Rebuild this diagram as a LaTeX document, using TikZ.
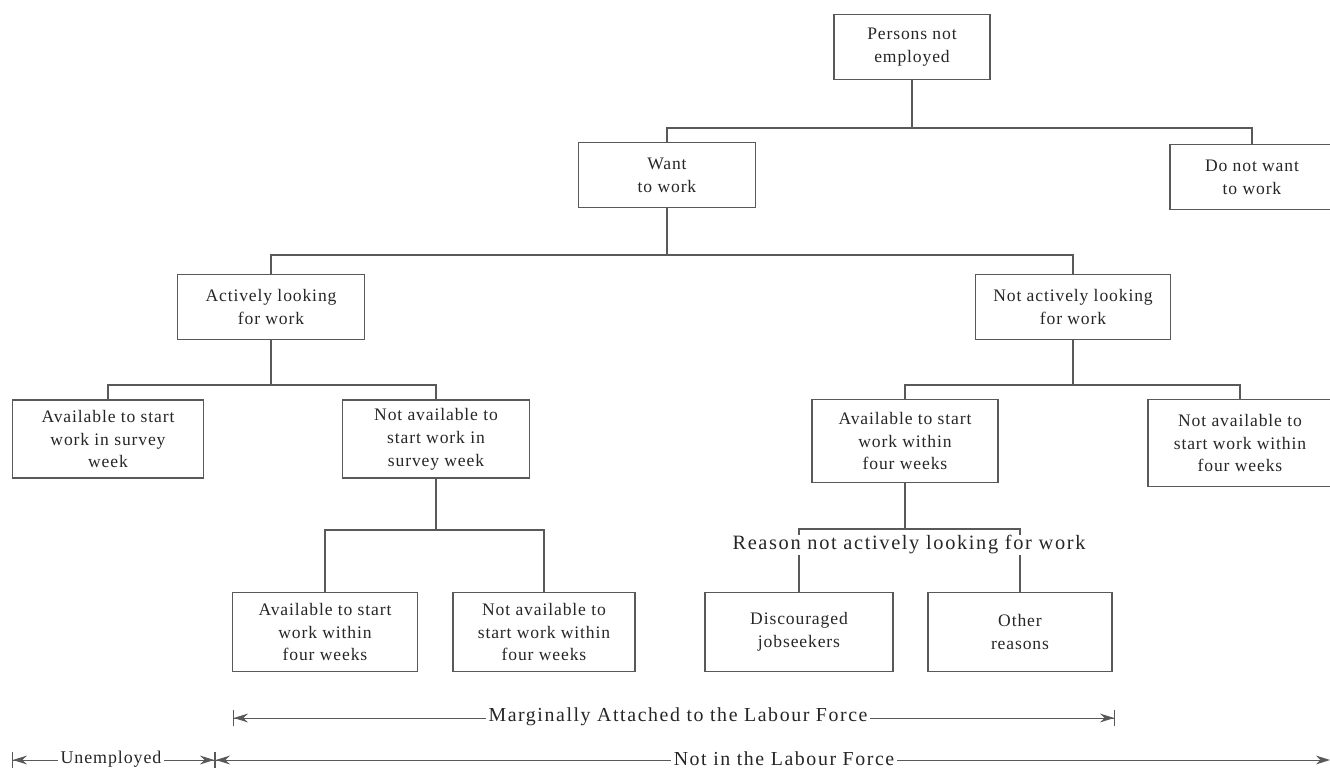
\documentclass[tikz,border=0pt]{standalone}
\usepackage{fontspec}
\usetikzlibrary{arrows.meta, calc}
\newfontfamily\boxfont[LetterSpace=5]{Liberation Serif}
\newfontfamily\lblfont[LetterSpace=8]{Liberation Serif}
\definecolor{linegray}{gray}{0.35}
\definecolor{textgray}{gray}{0.15}

\begin{document}
\begin{tikzpicture}[x = 0.02cm, y = -0.02cm, % one unit = one pixel of the scan
                line width = 0.6pt, draw = linegray,
                >={Stealth[length=8pt,width=5pt]}
            ]

            \tikzset{box/.style = {draw = linegray, rectangle, align = center,
            inner sep = 0pt, text = textgray,
            font = \boxfont\fontsize{10}{13}\selectfont},
            sz/.style 2 args = {minimum width = #1*0.02cm,
            minimum height = #2*0.02cm},
            lbl/.style = {fill = white, inner sep = 1.5pt, text = textgray,
            font = \lblfont\fontsize{11}{13}\selectfont},
            dim/.style = {draw = linegray, line width = 0.5pt}}

            \useasboundingbox (0,0) rectangle (1330,774);

            % boxes
            \node[box, sz={156}{65}] (pne) at (912,47) {Persons not\\employed};
            \node[box, sz={177}{65}] (want) at (667,175) {Want\\to work};
            \node[box, sz={164}{65}] (dnw) at (1252,177) {Do not want\\to work};
            \node[box, sz={187}{65}] (active) at (271,307) {Actively looking\\for work};
            \node[box, sz={195}{65}] (notactive) at (1073,307) {Not actively looking\\for work};
            \node[box, sz={191}{78}] (avsw) at (108,439) {Available to start\\work in survey\\week};
            \node[box, sz={187}{78}] (navsw) at (436,439) {Not available to\\start work in\\survey week};
            \node[box, sz={185}{79}] (avfwa) at (325,632) {Available to start\\work within\\four weeks};
            \node[box, sz={182}{79}] (navfwa) at (544,632) {Not available to\\start work within\\four weeks};
            \node[box, sz={186}{83}] (avfwb) at (905,441) {Available to start\\work within\\four weeks};
            \node[box, sz={184}{87}] (navfwb) at (1240,443) {Not available to\\start work within\\four weeks};
            \node[box, sz={188}{79}] (disc) at (799,632) {Discouraged\\jobseekers};
            \node[box, sz={184}{79}] (other) at (1020,632) {Other\\reasons};

            % tree lines
            \coordinate (j1) at (912,128); \coordinate (j2) at (667,255);
            \coordinate (j3) at (271,385); \coordinate (j4) at (1073,385);
            \coordinate (j5) at (436,530); \coordinate (j6) at (905,529);

            \draw (pne.south) -- (j1); \draw (want.north) |- (j1) -| (dnw.north);
            \draw (want.south) -- (j2); \draw (active.north) |- (j2) -| (notactive.north);
            \draw (active.south) -- (j3); \draw (avsw.north) |- (j3) -| (navsw.north);
            \draw (notactive.south) -- (j4); \draw (avfwb.north) |- (j4) -| (navfwb.north);
            \draw (navsw.south) -- (j5); \draw (avfwa.north) |- (j5) -| (navfwa.north);
            \draw (avfwb.south) -- (j6); \draw (disc.north) |- (j6) -| (other.north);

            \node[lbl, font = \lblfont\fontsize{11.6}{14}\selectfont, inner sep = 0.5pt]
            (reason) at (909,545) {Reason not actively looking for work};

            % labour force brackets
            \coordinate (m1) at (233,718); \coordinate (m2) at (1115,718);
            \coordinate (u1) at (12,760); \coordinate (u2) at (215,760);
            \coordinate (n2) at (1330,760);

            \draw[dim, {Bar[width=9pt]<}-{>Bar[width=9pt]}] (m1) -- (m2);
            \draw[dim, {Bar[width=9pt]<}-{>Bar[width=9pt]}] (u1) -- (u2);
            \draw[dim, {Bar[width=9pt]<}->] (u2) -- (n2);

            \node[lbl, font = \lblfont\fontsize{11.3}{13}\selectfont] (marg) at (678,717) {Marginally Attached to the Labour Force};
            \node[lbl, font = \boxfont\fontsize{10.2}{13}\selectfont] (unemp) at (111,759) {Unemployed};
            \node[lbl, font = \lblfont\fontsize{11.3}{13}\selectfont] (nilf) at (784,759) {Not in the Labour Force};
        \end{tikzpicture}
\end{document}
